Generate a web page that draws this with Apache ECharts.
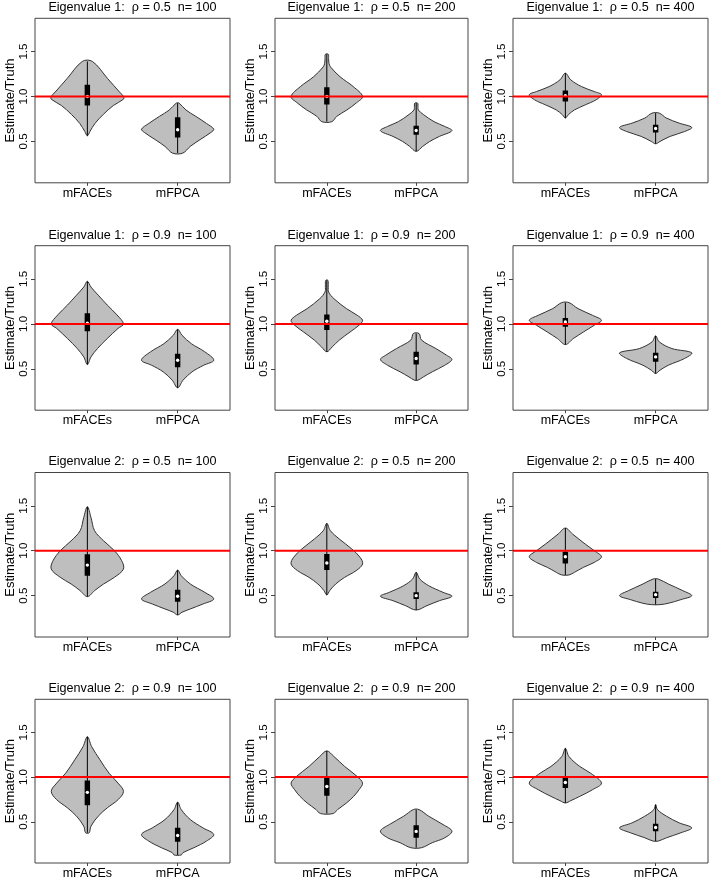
<!DOCTYPE html>
<html>
<head>
<meta charset="utf-8">
<script src="https://cdn.jsdelivr.net/npm/echarts@6/dist/echarts.min.js"></script>
<style>html,body{margin:0;padding:0;background:#fff;}#chart{width:709px;height:880px;}</style>
</head>
<body>
<div id="chart"></div>
<script>
// ---------- data ----------
const categories = ['mFACEs', 'mFPCA'];
const yTicks = [0.5, 1.0, 1.5];
const refValue = 1.0;
const panelTitles = [
  'Eigenvalue 1:  \u03c1 = 0.5  n= 100', 'Eigenvalue 1:  \u03c1 = 0.5  n= 200', 'Eigenvalue 1:  \u03c1 = 0.5  n= 400',
  'Eigenvalue 1:  \u03c1 = 0.9  n= 100', 'Eigenvalue 1:  \u03c1 = 0.9  n= 200', 'Eigenvalue 1:  \u03c1 = 0.9  n= 400',
  'Eigenvalue 2:  \u03c1 = 0.5  n= 100', 'Eigenvalue 2:  \u03c1 = 0.5  n= 200', 'Eigenvalue 2:  \u03c1 = 0.5  n= 400',
  'Eigenvalue 2:  \u03c1 = 0.9  n= 100', 'Eigenvalue 2:  \u03c1 = 0.9  n= 200', 'Eigenvalue 2:  \u03c1 = 0.9  n= 400'
];

// violin outlines: [value, relative half-width], from max down to min
const p1_mFACEs = [[1.39,0.14],[1.2,0.56],[1.05,0.89],[1.0,1.0],[0.97,1.0],[0.9,0.72],[0.8,0.44],[0.7,0.21],[0.61,0.07],[0.563,0]];
const p1_mFPCA  = [[0.926,0.04],[0.85,0.23],[0.78,0.5],[0.70,0.8],[0.637,1.0],[0.6,0.92],[0.52,0.62],[0.445,0.35],[0.37,0.14]];
const p2_mFACEs = [[1.47,0.04],[1.42,0.05],[1.37,0.06],[1.33,0.1],[1.22,0.37],[1.11,0.74],[1.0,1.0],[0.93,0.83],[0.85,0.56],[0.78,0.28],[0.72,0.14]];
const p2_mFPCA  = [[0.926,0.04],[0.88,0.05],[0.85,0.06],[0.8,0.2],[0.72,0.5],[0.667,0.8],[0.62,1.0],[0.556,0.65],[0.5,0.38],[0.444,0.18],[0.39,0]];
const p3_mFACEs = [[1.26,0],[1.185,0.15],[1.11,0.45],[1.055,0.8],[1.02,1.0],[0.963,0.85],[0.907,0.55],[0.85,0.25],[0.796,0.08],[0.76,0]];
const p3_mFPCA  = [[0.815,0.1],[0.76,0.3],[0.704,0.65],[0.656,1.0],[0.61,0.8],[0.556,0.4],[0.5,0.12],[0.474,0]];
const p4_mFACEs = [[1.474,0],[1.41,0.1],[1.32,0.3],[1.21,0.55],[1.1,0.82],[1.0,1.0],[0.95,0.85],[0.837,0.55],[0.726,0.28],[0.633,0.1],[0.548,0]];
const p4_mFPCA  = [[0.94,0],[0.874,0.12],[0.78,0.38],[0.69,0.75],[0.596,1.0],[0.54,0.72],[0.467,0.4],[0.374,0.15],[0.289,0]];
const p5_mFACEs = [[1.485,0.03],[1.42,0.04],[1.355,0.05],[1.28,0.2],[1.17,0.55],[1.096,0.85],[1.04,1.0],[0.985,0.9],[0.91,0.65],[0.82,0.35],[0.744,0.15],[0.69,0]];
const p5_mFPCA  = [[0.893,0.08],[0.82,0.15],[0.726,0.55],[0.652,0.85],[0.604,1.0],[0.54,0.8],[0.467,0.45],[0.41,0.2],[0.374,0.05]];
const p6_mFACEs = [[1.237,0.1],[1.17,0.35],[1.096,0.75],[1.04,1.0],[0.985,0.8],[0.91,0.5],[0.837,0.22],[0.77,0]];
const p6_mFPCA  = [[0.867,0],[0.8,0.1],[0.726,0.45],[0.678,1.0],[0.615,0.8],[0.54,0.35],[0.485,0.12],[0.448,0]];
const p7_mFACEs = [[1.489,0],[1.37,0.1],[1.222,0.2],[1.11,0.45],[1.0,0.75],[0.889,0.95],[0.796,1.0],[0.704,0.75],[0.63,0.45],[0.556,0.2],[0.489,0]];
const p7_mFPCA  = [[0.785,0],[0.722,0.1],[0.63,0.35],[0.537,0.75],[0.463,1.0],[0.407,0.7],[0.352,0.35],[0.315,0.12],[0.285,0]];
const p8_mFACEs = [[1.304,0],[1.222,0.1],[1.13,0.35],[1.019,0.7],[0.926,0.93],[0.852,1.0],[0.778,0.82],[0.704,0.5],[0.63,0.25],[0.556,0.08],[0.507,0]];
const p8_mFPCA  = [[0.759,0],[0.685,0.1],[0.611,0.35],[0.537,0.75],[0.493,1.0],[0.444,0.65],[0.389,0.3],[0.34,0]];
const p9_mFACEs = [[1.252,0],[1.185,0.2],[1.074,0.55],[1.0,0.8],[0.933,1.0],[0.87,0.8],[0.815,0.5],[0.759,0.25],[0.73,0.1]];
const p9_mFPCA  = [[0.685,0.07],[0.63,0.35],[0.556,0.75],[0.5,1.0],[0.456,0.7],[0.415,0.35],[0.4,0.12]];
const p10_mFACEs = [[1.452,0],[1.34,0.12],[1.193,0.35],[1.044,0.6],[0.933,0.85],[0.84,1.0],[0.748,0.85],[0.656,0.55],[0.563,0.3],[0.452,0.1],[0.378,0.05]];
const p10_mFPCA  = [[0.72,0],[0.637,0.1],[0.526,0.35],[0.433,0.7],[0.359,1.0],[0.285,0.8],[0.211,0.45],[0.156,0.15],[0.13,0.1]];
const p11_mFACEs = [[1.293,0],[1.23,0.2],[1.119,0.5],[1.007,0.85],[0.933,1.0],[0.859,0.9],[0.785,0.75],[0.711,0.55],[0.637,0.3],[0.593,0.18]];
const p11_mFPCA  = [[0.637,0.08],[0.563,0.35],[0.47,0.75],[0.396,1.0],[0.322,0.8],[0.267,0.45],[0.211,0.15]];
const p12_mFACEs = [[1.322,0],[1.23,0.1],[1.119,0.4],[1.044,0.7],[0.933,1.0],[0.859,0.75],[0.785,0.4],[0.737,0.15],[0.711,0]];
const p12_mFPCA  = [[0.693,0],[0.637,0.05],[0.563,0.3],[0.489,0.65],[0.433,1.0],[0.378,0.7],[0.322,0.3],[0.285,0.07]];

// box stats: [q1, median, q3]
const b1_mFACEs = [0.9, 1.0, 1.13],    b1_mFPCA = [0.545, 0.63, 0.77];
const b2_mFACEs = [0.911, 1.0, 1.104], b2_mFPCA = [0.574, 0.622, 0.674];
const b3_mFACEs = [0.944, 1.01, 1.067],b3_mFPCA = [0.6, 0.644, 0.685];
const b4_mFACEs = [0.919, 1.007, 1.119],b4_mFPCA = [0.519, 0.596, 0.667];
const b5_mFACEs = [0.933, 1.03, 1.104],b5_mFPCA = [0.548, 0.615, 0.689];
const b6_mFACEs = [0.967, 1.022, 1.067],b6_mFPCA = [0.578, 0.633, 0.678];
const b7_mFACEs = [0.72, 0.84, 0.96],  b7_mFPCA = [0.433, 0.493, 0.567];
const b8_mFACEs = [0.785, 0.863, 0.963],b8_mFPCA = [0.463, 0.5, 0.537];
const b9_mFACEs = [0.859, 0.933, 0.989],b9_mFPCA = [0.474, 0.511, 0.544];
const b10_mFACEs = [0.685, 0.83, 0.963],b10_mFPCA = [0.278, 0.348, 0.433];
const b11_mFACEs = [0.793, 0.896, 1.0], b11_mFPCA = [0.322, 0.393, 0.463];
const b12_mFACEs = [0.878, 0.94, 1.0],  b12_mFPCA = [0.396, 0.437, 0.478];

const profiles = [
  [p1_mFACEs, p1_mFPCA], [p2_mFACEs, p2_mFPCA], [p3_mFACEs, p3_mFPCA],
  [p4_mFACEs, p4_mFPCA], [p5_mFACEs, p5_mFPCA], [p6_mFACEs, p6_mFPCA],
  [p7_mFACEs, p7_mFPCA], [p8_mFACEs, p8_mFPCA], [p9_mFACEs, p9_mFPCA],
  [p10_mFACEs, p10_mFPCA], [p11_mFACEs, p11_mFPCA], [p12_mFACEs, p12_mFPCA]
];
const boxes = [
  [b1_mFACEs, b1_mFPCA], [b2_mFACEs, b2_mFPCA], [b3_mFACEs, b3_mFPCA],
  [b4_mFACEs, b4_mFPCA], [b5_mFACEs, b5_mFPCA], [b6_mFACEs, b6_mFPCA],
  [b7_mFACEs, b7_mFPCA], [b8_mFACEs, b8_mFPCA], [b9_mFACEs, b9_mFPCA],
  [b10_mFACEs, b10_mFPCA], [b11_mFACEs, b11_mFPCA], [b12_mFACEs, b12_mFPCA]
];

// ---------- layout ----------
const COL_LEFT = [35, 275, 513];
const COL_W = [195, 193, 195];
const ROW_TOP = [18.3, 245.7, 472.5, 699.3];
const ROW_H = 164.5;
const X_MIN = 0.42, X_MAX = 2.58, Y_MIN = 0.04, Y_MAX = 1.87;
const HALF = 0.4, BOX_HALF = 0.03;
const FONT = 'Liberation Sans, Arial, Helvetica, sans-serif';

const chart = echarts.init(document.getElementById('chart'), null, {renderer: 'canvas'});

function makeRender(pi) {
  return function (params, api) {
    const i = params.dataIndex;
    const xc = api.value(0);
    const prof = profiles[pi][i];
    const bx = boxes[pi][i];
    const pts = [];
    prof.forEach(function (p) { pts.push(api.coord([xc + p[1] * HALF, p[0]])); });
    for (let k = prof.length - 1; k >= 0; k--) {
      if (prof[k][1] === 0) continue;
      pts.push(api.coord([xc - prof[k][1] * HALF, prof[k][0]]));
    }
    const top = api.coord([xc, prof[0][0]]);
    const bot = api.coord([xc, prof[prof.length - 1][0]]);
    const bl = api.coord([xc - BOX_HALF, bx[2]]);
    const br = api.coord([xc + BOX_HALF, bx[0]]);
    const med = api.coord([xc, bx[1]]);
    return {
      type: 'group',
      children: [
        {type: 'polygon', shape: {points: pts, smooth: 0.35},
         style: {fill: '#bebebe', stroke: '#333333', lineWidth: 1}},
        {type: 'line', shape: {x1: top[0], y1: top[1], x2: bot[0], y2: bot[1]},
         style: {stroke: '#000000', lineWidth: 1}},
        {type: 'rect', shape: {x: bl[0], y: bl[1], width: br[0] - bl[0], height: br[1] - bl[1]},
         style: {fill: '#000000'}},
        {type: 'circle', shape: {cx: med[0], cy: med[1], r: 1.7}, style: {fill: '#ffffff'}}
      ]
    };
  };
}

const grids = [], xAxes = [], yAxes = [], series = [], titles = [];
for (let pi = 0; pi < 12; pi++) {
  const r = Math.floor(pi / 3), c = pi % 3;
  grids.push({left: COL_LEFT[c], top: ROW_TOP[r], width: COL_W[c], height: ROW_H,
    show: true, borderColor: '#444444', borderWidth: 1, backgroundColor: 'transparent'});
  xAxes.push({type: 'value', gridIndex: pi, min: X_MIN, max: X_MAX,
    axisLine: {show: false}, splitLine: {show: false},
    axisTick: {show: true, customValues: [1, 2], length: 3, lineStyle: {color: '#444'}},
    axisLabel: {customValues: [1, 2], margin: 4, color: '#000', fontFamily: FONT, fontSize: 12.5,
      formatter: function (v) { return categories[Math.round(v) - 1]; }}});
  yAxes.push({type: 'value', gridIndex: pi, min: Y_MIN, max: Y_MAX,
    axisLine: {show: false}, splitLine: {show: false},
    axisTick: {show: true, customValues: yTicks, length: 4, lineStyle: {color: '#444'}},
    axisLabel: {customValues: yTicks, rotate: 90, margin: 5, color: '#000', fontFamily: FONT, fontSize: 11.5,
      formatter: function (v) { return v.toFixed(1); }},
    name: 'Estimate/Truth', nameLocation: 'middle', nameRotate: 90, nameGap: 16,
    nameTextStyle: {color: '#000', fontFamily: FONT, fontSize: 13}});
  series.push({type: 'custom', xAxisIndex: pi, yAxisIndex: pi, z: 2, silent: true,
    renderItem: makeRender(pi), data: [[1], [2]], clip: true});
  series.push({type: 'line', xAxisIndex: pi, yAxisIndex: pi, z: 10, silent: true,
    showSymbol: false, symbol: 'none', animation: false,
    lineStyle: {color: '#ff0000', width: 2},
    data: [[X_MIN, refValue], [X_MAX, refValue]]});
  titles.push({text: panelTitles[pi], left: COL_LEFT[c] + COL_W[c] / 2, top: ROW_TOP[r] - 17,
    textAlign: 'center', padding: 0,
    textStyle: {fontFamily: FONT, fontSize: 12.6, fontWeight: 'normal', color: '#000'}});
}

chart.setOption({
  animation: false,
  backgroundColor: '#ffffff',
  title: titles,
  grid: grids,
  xAxis: xAxes,
  yAxis: yAxes,
  series: series
});
</script>
</body>
</html>
